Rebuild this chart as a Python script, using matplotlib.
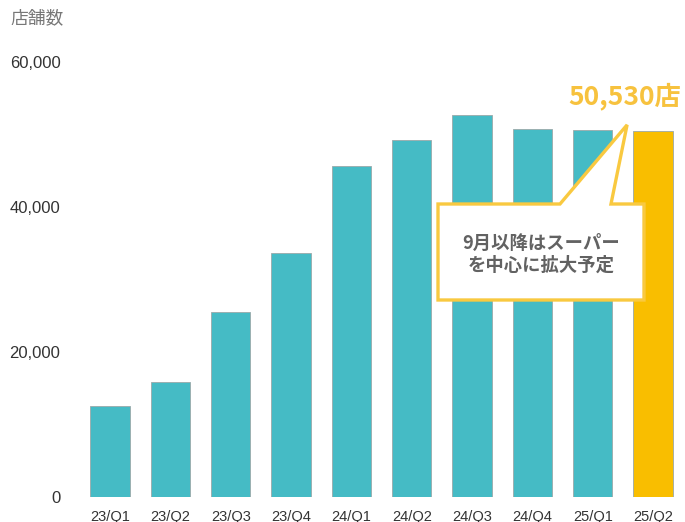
import matplotlib
matplotlib.use("Agg")
import matplotlib.pyplot as plt
from matplotlib.patches import Polygon

# Store counts per quarter
quarters = ["23/Q1", "23/Q2", "23/Q3", "23/Q4", "24/Q1", "24/Q2",
            "24/Q3", "24/Q4", "25/Q1", "25/Q2"]
stores = [12550, 15800, 25500, 33700, 45700, 49200, 52700, 50700, 50600, 50530]
y_ticks = [0, 20000, 40000, 60000]
y_tick_labels = ["0", "20,000", "40,000", "60,000"]
y_title = "店舗数"
latest_label = "50,530店"
note_text = "9月以降はスーパー\nを中心に拡大予定"

TEAL = "#45BBC5"
GOLD = "#F9BE00"
LABEL_GOLD = "#F7C23E"
OUTLINE = "#F9C940"
TEXT = "#333333"
GREY = "#626262"

W, H = 685, 522
fig = plt.figure(figsize=(W / 100, H / 100), dpi=100)
ax_left, ax_right = 79.85, 683.2
ax_top, ax_bottom = 62, 497
ax = fig.add_axes([ax_left / W, 1 - ax_bottom / H,
                   (ax_right - ax_left) / W, (ax_bottom - ax_top) / H])

x = list(range(len(quarters)))
colors = [TEAL] * (len(quarters) - 1) + [GOLD]
ax.bar(x, stores, width=0.65, color=colors, edgecolor="#9aa9aa",
       linewidth=0.6, zorder=2)

ax.set_xlim(-0.5, len(quarters) - 0.5)
ax.set_ylim(0, 60000)
ax.set_yticks(y_ticks)
ax.set_yticklabels(y_tick_labels, family="Liberation Sans", fontsize=12,
                   color=TEXT)
ax.set_xticks(x)
ax.set_xticklabels(quarters, family="Liberation Sans", fontsize=10.5,
                   color=TEXT)
ax.tick_params(axis="y", length=0, pad=14)
ax.tick_params(axis="x", length=0, pad=9)
for s in ax.spines.values():
    s.set_visible(False)

fig.text(10 / W, 1 - 18 / H, y_title, family="Noto Sans CJK JP",
         fontsize=12.8, color="#777777", ha="left", va="center")

# Latest value label above the final bar
last = len(quarters) - 1
ax.text(last + 0.46, stores[last] + 4700, latest_label,
        family="Noto Sans CJK JP", fontweight="bold", fontsize=19,
        color=LABEL_GOLD, ha="right", va="center", zorder=5)

# Speech-bubble callout pointing at the last bar
def px(xp):
    return (xp - ax_left) / (ax_right - ax_left) * (len(quarters)) - 0.5

def py(yp):
    return (ax_bottom - yp) / (ax_bottom - ax_top) * 60000

tip_x, tip_y = last - 0.43, stores[last] + 800
bubble = [(px(438), py(204)), (px(560), py(204)), (tip_x, tip_y),
          (px(611), py(204)), (px(644), py(204)), (px(644), py(300)),
          (px(438), py(300))]
ax.add_patch(Polygon(bubble, closed=True, facecolor="white",
                     edgecolor=OUTLINE, linewidth=2.4, joinstyle="miter",
                     zorder=4))
ax.text(px(541), py(254), note_text, family="Noto Sans CJK JP",
        fontweight="bold", fontsize=13.2, color=GREY, ha="center",
        va="center", linespacing=1.2, zorder=5)

fig.savefig("out.png", dpi=100)
